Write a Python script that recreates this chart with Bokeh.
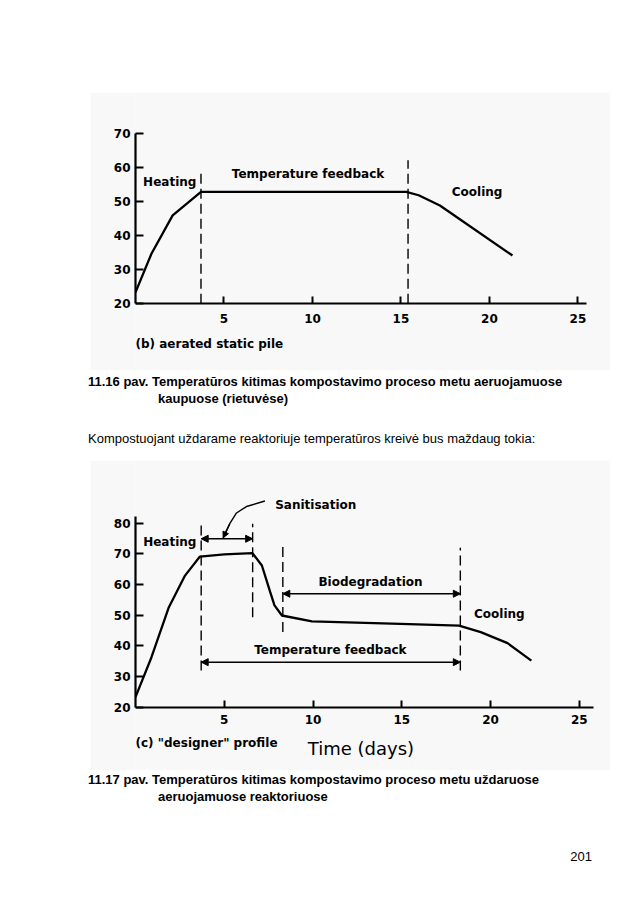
from bokeh.plotting import figure
from bokeh.models import Range1d, Div, Arrow, NormalHead, FixedTicker
from bokeh.layouts import column
from bokeh.core.properties import value
from bokeh.embed import file_html
from bokeh.resources import INLINE

# ---------------- data: (b) aerated static pile ----------------
b_days = [0, 0.9, 2.1, 3.7, 15.3, 16.0, 17.2, 21.3]
b_temp = [23.4, 34.7, 46.0, 52.9, 52.9, 51.9, 48.9, 34.2]
b_phase_x = [3.7, 15.4]
b_phase_top = [59.7, 62.2]
b_texts = ["Heating", "Temperature feedback", "Cooling", "(b) aerated static pile"]
b_text_x = [0.43, 9.75, 19.3, 0.0]
b_text_y = [55.8, 58.2, 52.8, 8.2]
b_text_align = ["left", "center", "center", "left"]
b_yticks = [20, 30, 40, 50, 60, 70]
b_xticks = [5, 10, 15, 20, 25]

# ---------------- data: (c) "designer" profile ----------------
c_days = [0, 0.9, 1.88, 2.79, 3.63, 5.0, 6.59, 7.12, 7.59, 7.83, 8.25, 9.94, 14.93, 18.23, 19.45, 20.96, 22.3]
c_temp = [23.3, 36.3, 52.6, 62.9, 69.1, 69.8, 70.2, 66.2, 57.5, 53.2, 49.9, 48.0, 47.2, 46.6, 44.5, 40.9, 35.2]
c_phase_x = [3.7, 6.6, 8.3, 18.3]
c_phase_top = [79.8, 79.8, 72.4, 72.0]
c_phase_bottom = [32.0, 49.3, 44.5, 32.0]
c_spans_start = [3.7, 8.3, 3.7]
c_spans_end = [6.6, 18.3, 18.3]
c_spans_level = [74.9, 57.0, 34.7]
c_leader_x = [4.94, 5.31, 5.69, 6.25, 7.29]
c_leader_y = [75.2, 79.8, 83.3, 85.4, 87.2]
c_texts = ["Heating", "Sanitisation", "Biodegradation", "Cooling", "Temperature feedback", "(c) \"designer\" profile"]
c_text_x = [0.43, 7.87, 13.24, 20.5, 10.98, 0.0]
c_text_y = [73.8, 85.8, 60.8, 50.5, 38.6, 8.3]
c_text_align = ["left", "left", "center", "center", "center", "left"]
c_axis_title = "Time (days)"
c_axis_title_x = 12.7
c_axis_title_y = 6.5
c_yticks = [20, 30, 40, 50, 60, 70, 80]
c_xticks = [5, 10, 15, 20, 25]

FONT = "DejaVu Sans"
BG = "#f8f8f8"


def base_fig(height, y0, y1, x1, margin):
    p = figure(width=520, height=height, output_backend="svg", toolbar_location=None,
               x_range=Range1d(0, x1), y_range=Range1d(y0, y1),
               min_border_left=45, min_border_right=0, min_border_top=0, min_border_bottom=0,
               background_fill_color=BG, border_fill_color=BG, outline_line_color=None,
               margin=margin)
    p.grid.visible = False
    for ax in (p.xaxis[0], p.yaxis[0]):
        ax.axis_line_width = 2.2
        ax.major_tick_line_width = 2
        ax.major_tick_out = 0
        ax.minor_tick_line_color = None
        ax.major_label_text_font = FONT
        ax.major_label_text_font_style = "bold"
        ax.major_label_text_font_size = "12px"
        ax.major_label_text_color = "black"
        ax.axis_line_color = "black"
        ax.major_tick_line_color = "black"
    p.xaxis.fixed_location = 20
    p.xaxis.major_tick_in = 7
    p.yaxis.major_tick_in = 8
    p.yaxis.major_label_standoff = 5
    return p


# ---------------- figure (b) ----------------
p1 = base_fig(278, 0.4, 82.1, 26.84, (92, 0, 0, 90))
p1.xaxis.ticker = FixedTicker(ticks=b_xticks)
p1.yaxis.ticker = FixedTicker(ticks=b_yticks)
p1.xaxis.bounds = (0, 25.5)
p1.yaxis.bounds = (20, 70)
p1.xaxis.major_label_standoff = 10

p1.line(b_days, b_temp, line_color="black", line_width=2.3)
p1.segment(x0=b_phase_x, y0=[20] * len(b_phase_x), x1=b_phase_x, y1=b_phase_top,
           line_color="black", line_width=1.4, line_dash="10 5")
p1.text(x=b_text_x, y=b_text_y, text=b_texts, text_align=b_text_align,
        text_baseline="middle", text_font=value(FONT), text_font_style="bold",
        text_font_size="12px", text_color="black")

# ---------------- figure (c) ----------------
p2 = base_fig(310, -0.6, 100.4, 26.76, (0, 0, 0, 90))
p2.xaxis.ticker = FixedTicker(ticks=c_xticks)
p2.yaxis.ticker = FixedTicker(ticks=c_yticks)
p2.xaxis.bounds = (0, 25.8)
p2.yaxis.bounds = (20, 82)
p2.xaxis.major_label_standoff = 8

p2.line(c_days, c_temp, line_color="black", line_width=2.3)
p2.segment(x0=c_phase_x, y0=c_phase_bottom, x1=c_phase_x, y1=c_phase_top,
           line_color="black", line_width=1.4, line_dash="10 5")
for xs, xe, lv in zip(c_spans_start, c_spans_end, c_spans_level):
    p2.add_layout(Arrow(start=NormalHead(size=7, fill_color="black", line_color="black"),
                        end=NormalHead(size=7, fill_color="black", line_color="black"),
                        x_start=xs, y_start=lv, x_end=xe, y_end=lv,
                        line_color="black", line_width=1.5))
p2.line(c_leader_x, c_leader_y, line_color="black", line_width=1.4)
p2.add_layout(Arrow(end=NormalHead(size=6, fill_color="black", line_color="black"),
                    x_start=c_leader_x[1], y_start=c_leader_y[1],
                    x_end=c_leader_x[0], y_end=c_leader_y[0],
                    line_color="black", line_width=1.4))
p2.text(x=c_text_x, y=c_text_y, text=c_texts, text_align=c_text_align,
        text_baseline="middle", text_font=value(FONT), text_font_style="bold",
        text_font_size="12px", text_color="black")
p2.text(x=[c_axis_title_x], y=[c_axis_title_y], text=[c_axis_title], text_align="center",
        text_baseline="middle", text_font=value(FONT), text_font_size="18px", text_color="black")

# ---------------- captions ----------------
cap_style = "font-family:'Liberation Sans',Arial,sans-serif;font-size:13px;color:#000;line-height:17px;"
cap1 = Div(width=540, height=90, margin=(0, 0, 0, 88), text=(
    f"<div style=\"{cap_style}\">"
    "<div style='padding-top:3px;font-weight:bold;white-space:nowrap;'>11.16 pav. Temperatūros kitimas kompostavimo proceso metu aeruojamuose</div>"
    "<div style='font-weight:bold;padding-left:70px;white-space:nowrap;'>kaupuose (rietuvėse)</div>"
    "<div style='margin-top:23px;white-space:nowrap;'>Kompostuojant uždarame reaktoriuje temperatūros kreivė bus maždaug tokia:</div>"
    "</div>"))
cap2 = Div(width=540, height=110, margin=(0, 0, 0, 88), text=(
    f"<div style=\"{cap_style}\">"
    "<div style='padding-top:1px;font-weight:bold;white-space:nowrap;'>11.17 pav. Temperatūros kitimas kompostavimo proceso metu uždaruose</div>"
    "<div style='font-weight:bold;padding-left:70px;white-space:nowrap;'>aeruojamuose reaktoriuose</div>"
    "<div style='margin-top:43px;width:504px;text-align:right;'>201</div>"
    "</div>"))

layout = column(p1, cap1, p2, cap2)
open("out.html", "w").write(file_html(layout, INLINE))
